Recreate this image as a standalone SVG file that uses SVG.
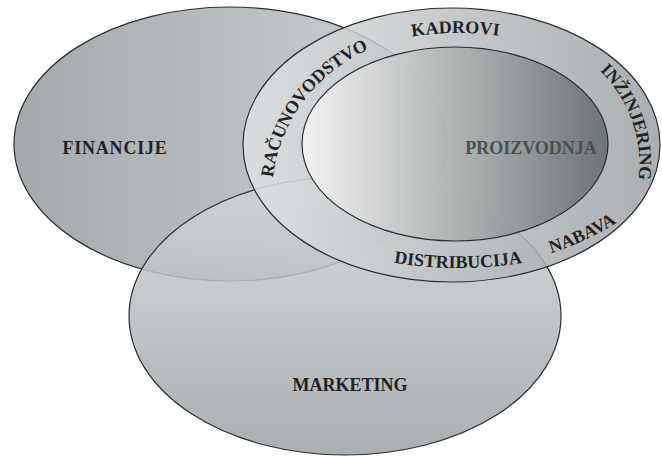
<svg xmlns="http://www.w3.org/2000/svg" width="662" height="457" viewBox="0 0 662 457">
<style>
.edge{stroke:#2b2f31;stroke-width:1.2}
.lbl{font-family:"Liberation Serif","Times New Roman",serif;font-weight:bold;font-size:18px;fill:#1f2325}
.arc{fill:none;stroke:none}
</style>
<defs>
<linearGradient id="gFin" x1="0" y1="0" x2="1" y2="0">
<stop offset="0" stop-color="#a3a9ab"/>
<stop offset="1" stop-color="#ced2d4"/>
</linearGradient>
<linearGradient id="gMar" x1="0" y1="0" x2="0" y2="1">
<stop offset="0" stop-color="#d2d6d8"/>
<stop offset="1" stop-color="#9aa0a2"/>
</linearGradient>
<linearGradient id="gOut" x1="0" y1="0" x2="1" y2="0">
<stop offset="0" stop-color="#dfe2e3"/>
<stop offset="1" stop-color="#9aa0a2"/>
</linearGradient>
<linearGradient id="gIn" x1="0" y1="0" x2="1" y2="0">
<stop offset="0" stop-color="#f7f7f7"/>
<stop offset="1" stop-color="#62696b"/>
</linearGradient>
<path id="pRac" class="arc" d="M298.2,286.7 A162,162 0 0 1 480.2,42.6"/>
<path id="pKad" class="arc" d="M317.3,75.3 A181,114 0 0 1 594.7,72.2"/>
<path id="pInz" class="arc" d="M509.8,33.95 A130.5,130.5 0 0 1 592.1,265"/>
<path id="pDis" class="arc" d="M354.7,254.4 A399,399 0 0 0 561.3,254.4"/>
<path id="pNab" class="arc" d="M438.1,265.9 A288,288 0 0 0 699.1,144.2"/>
</defs>
<g id="financije">
<ellipse cx="230" cy="144" rx="216" ry="137" fill="url(#gFin)" class="edge"/>
<text class="lbl" x="115" y="154" text-anchor="middle" letter-spacing="0.8">FINANCIJE</text>
</g>
<g id="marketing">
<ellipse cx="345" cy="316" rx="216" ry="139" fill="url(#gMar)" fill-opacity="0.85" class="edge"/>
<text class="lbl" x="350" y="391" text-anchor="middle">MARKETING</text>
</g>
<g id="okolina">
<ellipse cx="451.5" cy="145" rx="208.5" ry="137" fill="url(#gOut)" fill-opacity="0.85" class="edge"/>
<text class="lbl"><textPath href="#pRac" startOffset="50%" text-anchor="middle">RAČUNOVODSTVO</textPath></text>
<text class="lbl"><textPath href="#pKad" startOffset="50%" text-anchor="middle">KADROVI</textPath></text>
<text class="lbl"><textPath href="#pInz" startOffset="50%" text-anchor="middle">INŽINJERING</textPath></text>
<text class="lbl"><textPath href="#pDis" startOffset="50%" text-anchor="middle">DISTRIBUCIJA</textPath></text>
<text class="lbl"><textPath href="#pNab" startOffset="50%" text-anchor="middle">NABAVA</textPath></text>
</g>
<g id="proizvodnja">
<ellipse cx="455" cy="144" rx="153" ry="97" fill="url(#gIn)" fill-opacity="0.85" class="edge"/>
<text class="lbl" x="531" y="154" text-anchor="middle" style="fill:#4a5052">PROIZVODNJA</text>
</g>
<g id="connectors"/>
</svg>
